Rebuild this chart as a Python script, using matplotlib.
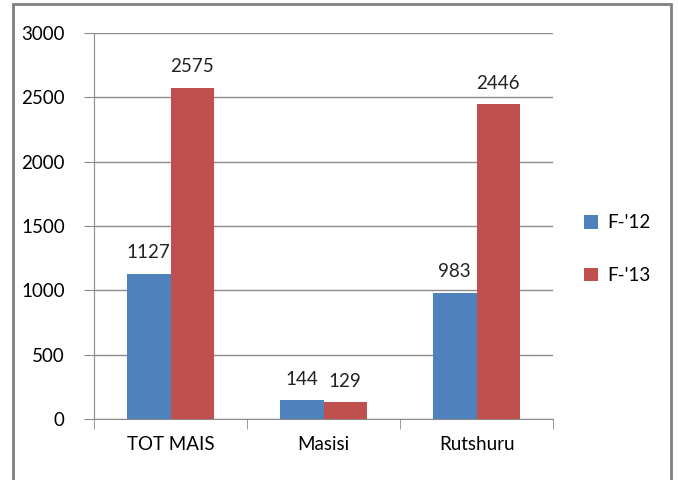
import matplotlib
matplotlib.use("Agg")
import matplotlib.pyplot as plt
import numpy as np
from matplotlib.patches import Rectangle

categories = ["TOT MAIS", "Masisi", "Rutshuru"]
series_names = ["F-'12", "F-'13"]
f12 = [1127, 144, 983]
f13 = [2575, 129, 2446]
yticks = [0, 500, 1000, 1500, 2000, 2500, 3000]

plt.rcParams['font.family'] = ['Lato', 'DejaVu Sans']
FS = 13.5

fig = plt.figure(figsize=(6.78, 4.8), dpi=100)
ax = fig.add_axes([94/678, 1-419/480, (553-94)/678, (419-33)/480])

x = np.arange(len(categories))
w = 0.284
blue = "#4F81BD"
red = "#C0504D"
b1 = ax.bar(x - w/2, f12, w, color=blue, label=series_names[0], zorder=3)
b2 = ax.bar(x + w/2, f13, w, color=red, label=series_names[1], zorder=3)

for bars, vals in ((b1, f12), (b2, f13)):
    for r, v in zip(bars, vals):
        ax.annotate(str(v), (r.get_x() + r.get_width()/2, v), xytext=(0, 9),
                    textcoords="offset points", ha="center", va="bottom",
                    fontsize=FS, color="#222222")

ax.set_xlim(-0.5, 2.5)
ax.set_ylim(0, 3000)
ax.set_yticks(yticks)
ax.yaxis.grid(True, color="#8C8C8C", linewidth=1, zorder=0)
ax.set_xticks(x)
ax.set_xticklabels(categories, fontsize=FS)
ax.set_xticks([-0.5, 0.5, 1.5, 2.5], minor=True)
ax.tick_params(axis='x', which='major', length=0, pad=12)
ax.tick_params(axis='x', which='minor', length=7, color="#8C8C8C", direction='out')
ax.tick_params(axis='y', length=7, color="#8C8C8C", labelsize=FS, pad=14)
for s in ("top", "right"):
    ax.spines[s].set_visible(False)
for s in ("left", "bottom"):
    ax.spines[s].set_color("#8C8C8C")

leg = ax.legend(loc="center left", bbox_to_anchor=(1.03, 0.44), frameon=False,
                fontsize=FS, handlelength=0.75, handleheight=0.75,
                labelspacing=1.9, handletextpad=0.5)

fig.patches.append(Rectangle((13/678, -0.1), (671-13)/678, 1.1 - 4/480,
                             transform=fig.transFigure, fill=False,
                             edgecolor="#808080", linewidth=2))

fig.savefig("out.png", dpi=100)
